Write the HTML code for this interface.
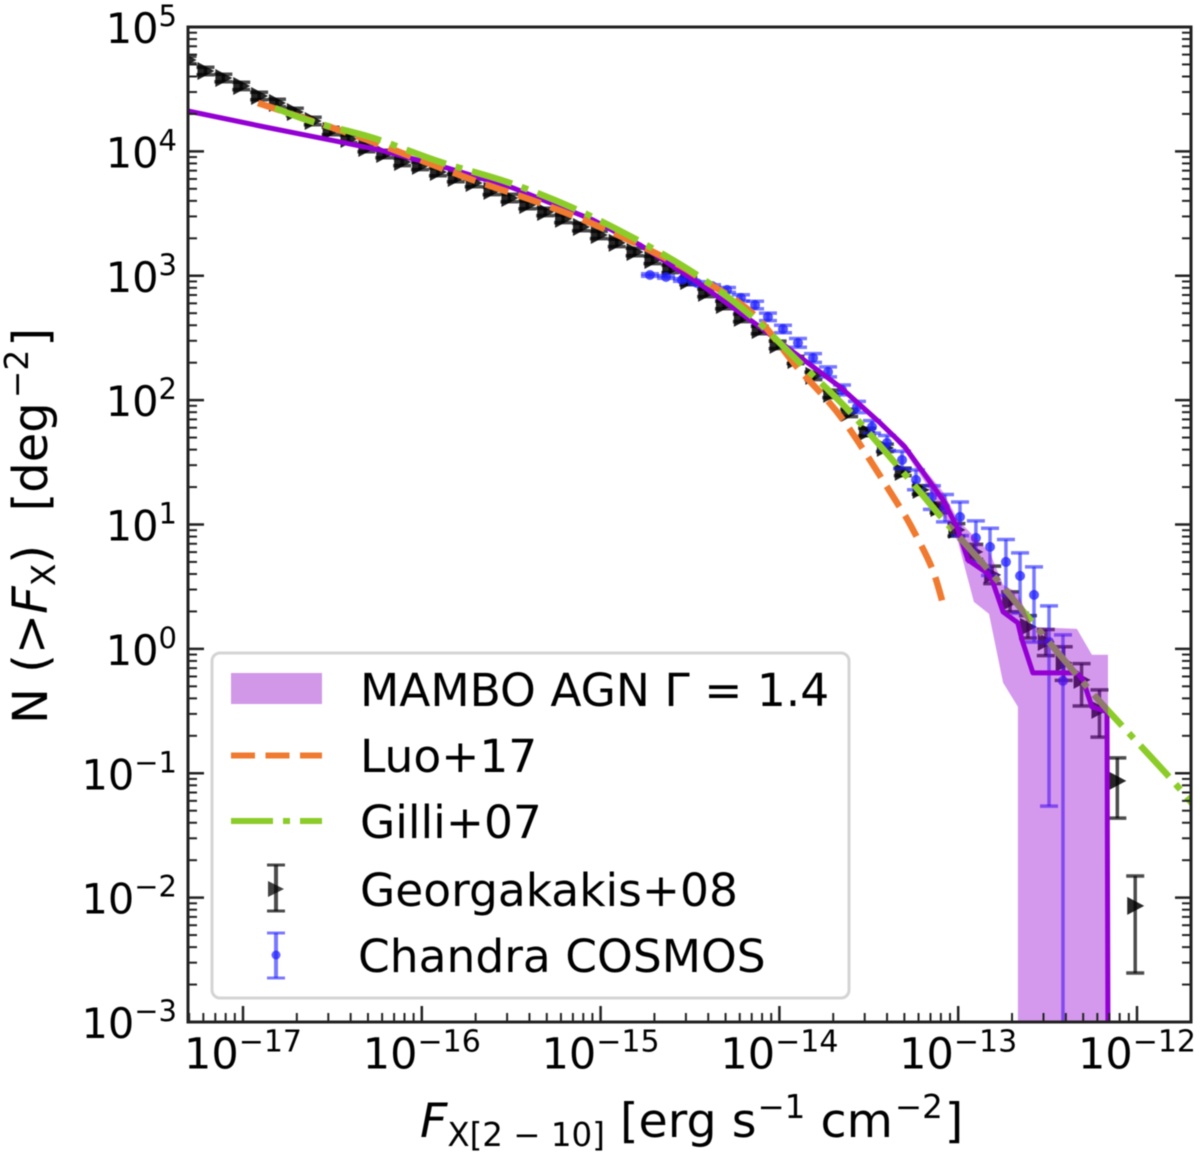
<!DOCTYPE html>
<html lang="en">
<head>
<meta charset="utf-8">
<title>X-ray number counts</title>
<style>
html,body{margin:0;padding:0;background:#fff;width:1200px;height:1156px;overflow:hidden}
svg{display:block;filter:blur(.5px)}
text{font-family:"DejaVu Sans","Liberation Sans",sans-serif;fill:#000}
</style>
</head>
<body>
<svg id="chart" xmlns="http://www.w3.org/2000/svg" width="1200" height="1156" viewBox="0 0 1200 1156">
  <defs><clipPath id="plot-clip"><rect x="188" y="27" width="1003" height="995"/></clipPath></defs>
  <rect x="188" y="27" width="1003" height="995" fill="#fff"/>
  <g id="marks" clip-path="url(#plot-clip)"></g>
  <g id="axes"></g>
  <rect x="188" y="27" width="1003" height="995" fill="none" stroke="#222" stroke-width="3"/>

  <text transform="translate(47,724) rotate(-90)" font-size="48" xml:space="preserve">N (&gt;<tspan font-style="italic">F</tspan><tspan font-size="33" dy="8">X</tspan><tspan dy="-8">)  </tspan><tspan dx="3">[deg</tspan><tspan font-size="33" dx="4" dy="-19">−2</tspan><tspan dx="3" dy="19">]</tspan></text>
  <text x="420" y="1137" font-size="47.500" xml:space="preserve"><tspan font-style="italic">F</tspan><tspan font-size="32.500" dy="9">X[2 − 10]</tspan><tspan dy="-9"> [erg s</tspan><tspan font-size="32.500" dx="1" dy="-19">−1</tspan><tspan dy="19"> cm</tspan><tspan font-size="32.500" dx="2" dy="-19">−2</tspan><tspan dx="2" dy="19">]</tspan></text>

  <g>
    <rect x="212" y="653" width="637" height="345" rx="8" fill="#fff" fill-opacity=".85" stroke="#d4d4d4" stroke-width="3"/>
    <rect x="231" y="673" width="91" height="31" fill="#d198e8"/>
    <text x="360" y="706" font-size="45.500">MAMBO AGN Γ = 1.4</text>
    <line x1="231" x2="322" y1="755.500" y2="755.500" stroke="#f07a30" stroke-width="6" stroke-dasharray="24 10.500"/>
    <text x="360" y="772" font-size="45.500">Luo+17</text>
    <line x1="231" x2="322" y1="821" y2="821" stroke="#8ccc28" stroke-width="6" stroke-dasharray="42 10 7 10"/>
    <text x="360" y="838" font-size="45.500">Gilli+07</text>
    <g stroke="#000" stroke-opacity=".7" stroke-width="3">
      <line x1="276" x2="276" y1="865" y2="911" stroke-width="4"/><line x1="267" x2="285" y1="865" y2="865"/><line x1="267" x2="285" y1="911" y2="911"/>
      <path d="M268 881 L284 889 L268 897 Z" fill="#000" fill-opacity=".75" stroke="none"/>
    </g>
    <text x="360" y="906" font-size="45.500">Georgakakis+08</text>
    <g stroke="#2020ff" stroke-opacity=".6" stroke-width="3">
      <line x1="276" x2="276" y1="933" y2="978" stroke-width="4"/><line x1="267" x2="285" y1="933" y2="933"/><line x1="267" x2="285" y1="978" y2="978"/>
      <circle cx="276" cy="955" r="4.500" fill="#2020ff" fill-opacity=".7" stroke="none"/>
    </g>
    <text x="358" y="972" font-size="45.500">Chandra COSMOS</text>
  </g>
</svg>

<script>
// ---- Data (log10 flux, log10 counts) ----
const xTickExps = [-17, -16, -15, -14, -13, -12];
const yTickExps = [-3, -2, -1, 0, 1, 2, 3, 4, 5];

const georgakakisLogF = [-17.31,-17.21,-17.11,-17.01,-16.91,-16.81,-16.71,-16.61,-16.51,-16.41,-16.31,-16.21,-16.11,-16.01,-15.91,-15.81,-15.71,-15.61,-15.51,-15.41,-15.31,-15.21,-15.11,-15.01,-14.91,-14.81,-14.71,-14.61,-14.51,-14.41,-14.31,-14.21,-14.11,-14.01,-13.91,-13.81,-13.71,-13.61,-13.51,-13.41,-13.31,-13.21,-13.11,-13.01,-12.91,-12.81,-12.71,-12.61,-12.51,-12.41,-12.31,-12.21,-12.11,-12.01];
const georgakakisLogN = [4.735,4.646,4.590,4.526,4.445,4.389,4.317,4.244,4.164,4.100,4.027,3.979,3.915,3.883,3.834,3.786,3.746,3.682,3.625,3.569,3.513,3.457,3.392,3.328,3.264,3.191,3.127,3.055,2.958,2.862,2.765,2.661,2.564,2.444,2.323,2.195,2.050,1.897,1.744,1.616,1.423,1.278,1.133,0.957,0.780,0.595,0.378,0.177,0.056,-0.113,-0.249,-0.490,-1.061,-2.066];
const georgakakisErrUp = [.03,.03,.03,.03,.03,.03,.03,.03,.03,.03,.03,.03,.03,.03,.03,.03,.03,.03,.03,.03,.03,.03,.03,.03,.03,.03,.03,.03,.03,.03,.03,.03,.03,.03,.03,.03,.03,.03,.03,.03,.03,.035,.04,.05,.06,.07,.08,.09,.10,.13,.13,.16,.185,.24];
const georgakakisErrDown = [.03,.03,.03,.03,.03,.03,.03,.03,.03,.03,.03,.03,.03,.03,.03,.03,.03,.03,.03,.03,.03,.03,.03,.03,.03,.03,.03,.03,.03,.03,.03,.03,.03,.03,.03,.03,.03,.03,.03,.03,.03,.035,.04,.05,.06,.07,.08,.09,.11,.14,.21,.22,.30,.54];

const chandraLogF = [-14.724,-14.634,-14.545,-14.461,-14.377,-14.293,-14.215,-14.136,-14.064,-13.980,-13.896,-13.812,-13.728,-13.650,-13.566,-13.482,-13.398,-13.314,-13.236,-13.147,-13.074,-12.990,-12.901,-12.822,-12.733,-12.654,-12.576,-12.492,-12.414];
const chandraLogN = [3.006,2.990,2.966,2.942,2.918,2.886,2.822,2.765,2.669,2.572,2.460,2.339,2.227,2.082,1.945,1.785,1.656,1.519,1.359,1.222,1.141,1.061,0.892,0.820,0.699,0.587,0.434,0.056,-0.257];
const chandraErrUp = [.01,.01,.01,.01,.01,.02,.025,.03,.03,.03,.035,.035,.04,.04,.045,.05,.06,.07,.08,.09,.10,.12,.137,.15,.18,.185,.225,.29,.37];
const chandraErrDown = [.01,.01,.01,.01,.01,.02,.025,.03,.03,.03,.035,.035,.04,.04,.045,.05,.06,.07,.08,.10,.12,.15,.19,.23,.27,.30,.38,1.32,3];

const mamboLogF = [-17.308,-16.877,-16.457,-16.234,-15.859,-15.490,-15.043,-14.780,-14.461,-14.148,-13.885,-13.661,-13.437,-13.298,-13.186,-13.085,-13.007,-12.945,-12.839,-12.811,-12.749,-12.666,-12.643,-12.582,-12.336,-12.302,-12.252,-12.168,-12.162];
const mamboLogN = [4.325,4.196,4.076,4.011,3.867,3.706,3.449,3.248,2.950,2.629,2.347,2.106,1.817,1.624,1.400,1.198,0.981,0.715,0.611,0.555,0.297,0.209,0.072,-0.193,-0.193,-0.249,-0.466,-0.506,-3.200];

const bandUpperLogF = [-13.437,-13.298,-13.186,-13.085,-13.001,-12.822,-12.749,-12.666,-12.587,-12.336,-12.252,-12.162,-12.162];
const bandUpperLogN = [1.841,1.656,1.439,1.262,1.037,0.772,0.514,0.450,0.177,0.161,-0.048,-0.048,-3.200];
const bandLowerLogF = [-13.437,-13.298,-13.186,-13.001,-12.912,-12.828,-12.749,-12.666,-12.666];
const bandLowerLogN = [1.809,1.584,1.342,0.860,0.378,0.281,-0.273,-0.466,-3.200];

const luoLogF = [-16.916,-16.513,-16.273,-16.083,-15.714,-15.339,-14.964,-14.595,-14.455,-14.153,-13.902,-13.644,-13.342,-13.253,-13.147,-13.085];
const luoLogN = [4.389,4.196,4.076,3.971,3.770,3.585,3.368,3.111,2.990,2.701,2.267,1.841,1.174,0.957,0.651,0.362];

const gilliLogF = [-16.821,-16.609,-16.273,-15.898,-15.523,-15.154,-14.796,-14.461,-14.164,-13.885,-13.605,-13.286,-13.091,-12.990,-12.783,-12.587,-12.280,-12.078,-11.815,-11.676];
const gilliLogN = [4.349,4.236,4.108,3.915,3.754,3.545,3.288,3.006,2.685,2.299,1.905,1.383,1.053,0.892,0.555,0.217,-0.305,-0.627,-1.037,-1.270];

// ---- Axis functions ----
const LEFT = 188, RIGHT = 1191, TOP = 27, BOTTOM = 1022;
const xScale = lf => 243 + 178.8 * (lf + 17);
const yScale = ln => 27 + 124.375 * (5 - ln);

const NS = 'http://www.w3.org/2000/svg';
const marks = document.getElementById('marks');
const axes = document.getElementById('axes');
function make(tag, attrs, parent) {
  const e = document.createElementNS(NS, tag);
  for (const k in attrs) e.setAttribute(k, attrs[k]);
  parent.appendChild(e);
  return e;
}
const pts = (fs, ns) => fs.map((f, i) => xScale(f).toFixed(1) + ',' + yScale(ns[i]).toFixed(1));
// Smooth path through the series points (Catmull-Rom)
function smoothPath(fs, ns) {
  const p = fs.map((f, i) => [xScale(f), yScale(ns[i])]);
  let d = 'M' + p[0][0].toFixed(1) + ' ' + p[0][1].toFixed(1);
  for (let i = 0; i < p.length - 1; i++) {
    const a = p[Math.max(i - 1, 0)], b = p[i], c = p[i + 1], e = p[Math.min(i + 2, p.length - 1)];
    d += ' C' + (b[0] + (c[0] - a[0]) / 6).toFixed(1) + ' ' + (b[1] + (c[1] - a[1]) / 6).toFixed(1) + ' ' +
         (c[0] - (e[0] - b[0]) / 6).toFixed(1) + ' ' + (c[1] - (e[1] - b[1]) / 6).toFixed(1) + ' ' +
         c[0].toFixed(1) + ' ' + c[1].toFixed(1);
  }
  return d;
}

// ---- Ticks ----
xTickExps.forEach(exp => {
  for (let k = 1; k < 10; k++) {
    const x = xScale(exp + Math.log10(k));
    if (x < LEFT || x > RIGHT) continue;
    const t = make('line', {x1: x, x2: x, y1: BOTTOM, y2: BOTTOM - (k === 1 ? 16 : 9), stroke: '#222', 'stroke-width': k === 1 ? 2.5 : 2}, axes);
    
    
  }
  for (let k = 2; k < 10; k++) {
    const x = xScale(exp - 1 + Math.log10(k));
    if (x < LEFT || exp !== -17) continue;
    const t = make('line', {x1: x, x2: x, y1: BOTTOM, y2: BOTTOM - 9, stroke: '#222', 'stroke-width': 2}, axes);
    
    
  }
  const lab = make('text', {x: xScale(exp), y: 1068.5, 'font-size': 43, 'text-anchor': 'middle'}, axes);
  
  
  lab.textContent = '10';
  const sup = make('tspan', {'font-size': 30, dy: -17}, lab);
  sup.textContent = '−' + Math.abs(exp);
});
yTickExps.forEach(exp => {
  for (let k = 1; k < 10; k++) {
    const y = yScale(exp + Math.log10(k));
    if (y < TOP) continue;
    const len = k === 1 ? 16 : 9;
    [[LEFT, LEFT + len], [RIGHT, RIGHT - len]].forEach(pair => {
      const t = make('line', {x1: pair[0], x2: pair[1], y1: y, y2: y, stroke: '#222', 'stroke-width': k === 1 ? 2.5 : 2}, axes);
      
      
    });
  }
  const lab = make('text', {x: 177, y: yScale(exp) + 16, 'font-size': 41.5, 'text-anchor': 'end'}, axes);
  
  
  lab.textContent = '10';
  const sup = make('tspan', {'font-size': 29, dy: -17}, lab);
  sup.textContent = (exp < 0 ? '−' : '') + Math.abs(exp);
});

// ---- Error-bar series ----
function errorSeries(fs, ns, up, down, color, opacity, group) {
  fs.forEach((f, i) => {
    const x = xScale(f);
    const y0 = yScale(ns[i] + up[i]);
    const y1 = yScale(ns[i] - down[i]);
    const g = make('g', {stroke: color, 'stroke-opacity': opacity, 'stroke-width': 3.5}, marks);
    
    
    make('line', {x1: x, x2: x, y1: y0, y2: y1, 'stroke-width': 3.5}, g);
    make('line', {x1: x - 9, x2: x + 9, y1: y0, y2: y0}, g);
    make('line', {x1: x - 9, x2: x + 9, y1: y1, y2: y1}, g);
    const y = yScale(ns[i]);
    if (group === 'georgakakis') {
      make('path', {d: 'M' + (x - 8) + ' ' + (y - 9) + ' L' + (x + 9) + ' ' + y + ' L' + (x - 8) + ' ' + (y + 9) + ' Z', fill: color, 'fill-opacity': opacity + 0.15, stroke: 'none'}, g);
    } else {
      make('circle', {cx: x, cy: y, r: 5, fill: color, 'fill-opacity': opacity + 0.15, stroke: 'none'}, g);
    }
  });
}
errorSeries(georgakakisLogF, georgakakisLogN, georgakakisErrUp, georgakakisErrDown, '#000', 0.7, 'georgakakis');
errorSeries(chandraLogF, chandraLogN, chandraErrUp, chandraErrDown, '#2020ff', 0.6, 'chandra');

// ---- Model curves ----
const mamboLine = make('polyline', {points: pts(mamboLogF, mamboLogN).join(' '), fill: 'none', stroke: '#9400d3', 'stroke-width': 5, 'stroke-linejoin': 'round'}, marks);



const luoLine = make('path', {d: smoothPath(luoLogF, luoLogN), fill: 'none', stroke: '#f07a30', 'stroke-width': 6.5, 'stroke-dasharray': '24 10.5'}, marks);



const gilliLine = make('path', {d: smoothPath(gilliLogF, gilliLogN), fill: 'none', stroke: '#8ccc28', 'stroke-width': 6.5, 'stroke-dasharray': '42 10 7 10'}, marks);



const bandPoints = pts(bandUpperLogF, bandUpperLogN).concat(pts(bandLowerLogF, bandLowerLogN).reverse()).join(' ');
const band = make('polygon', {points: bandPoints, fill: '#9400d3', 'fill-opacity': 0.4}, marks);


</script>
</body>
</html>
